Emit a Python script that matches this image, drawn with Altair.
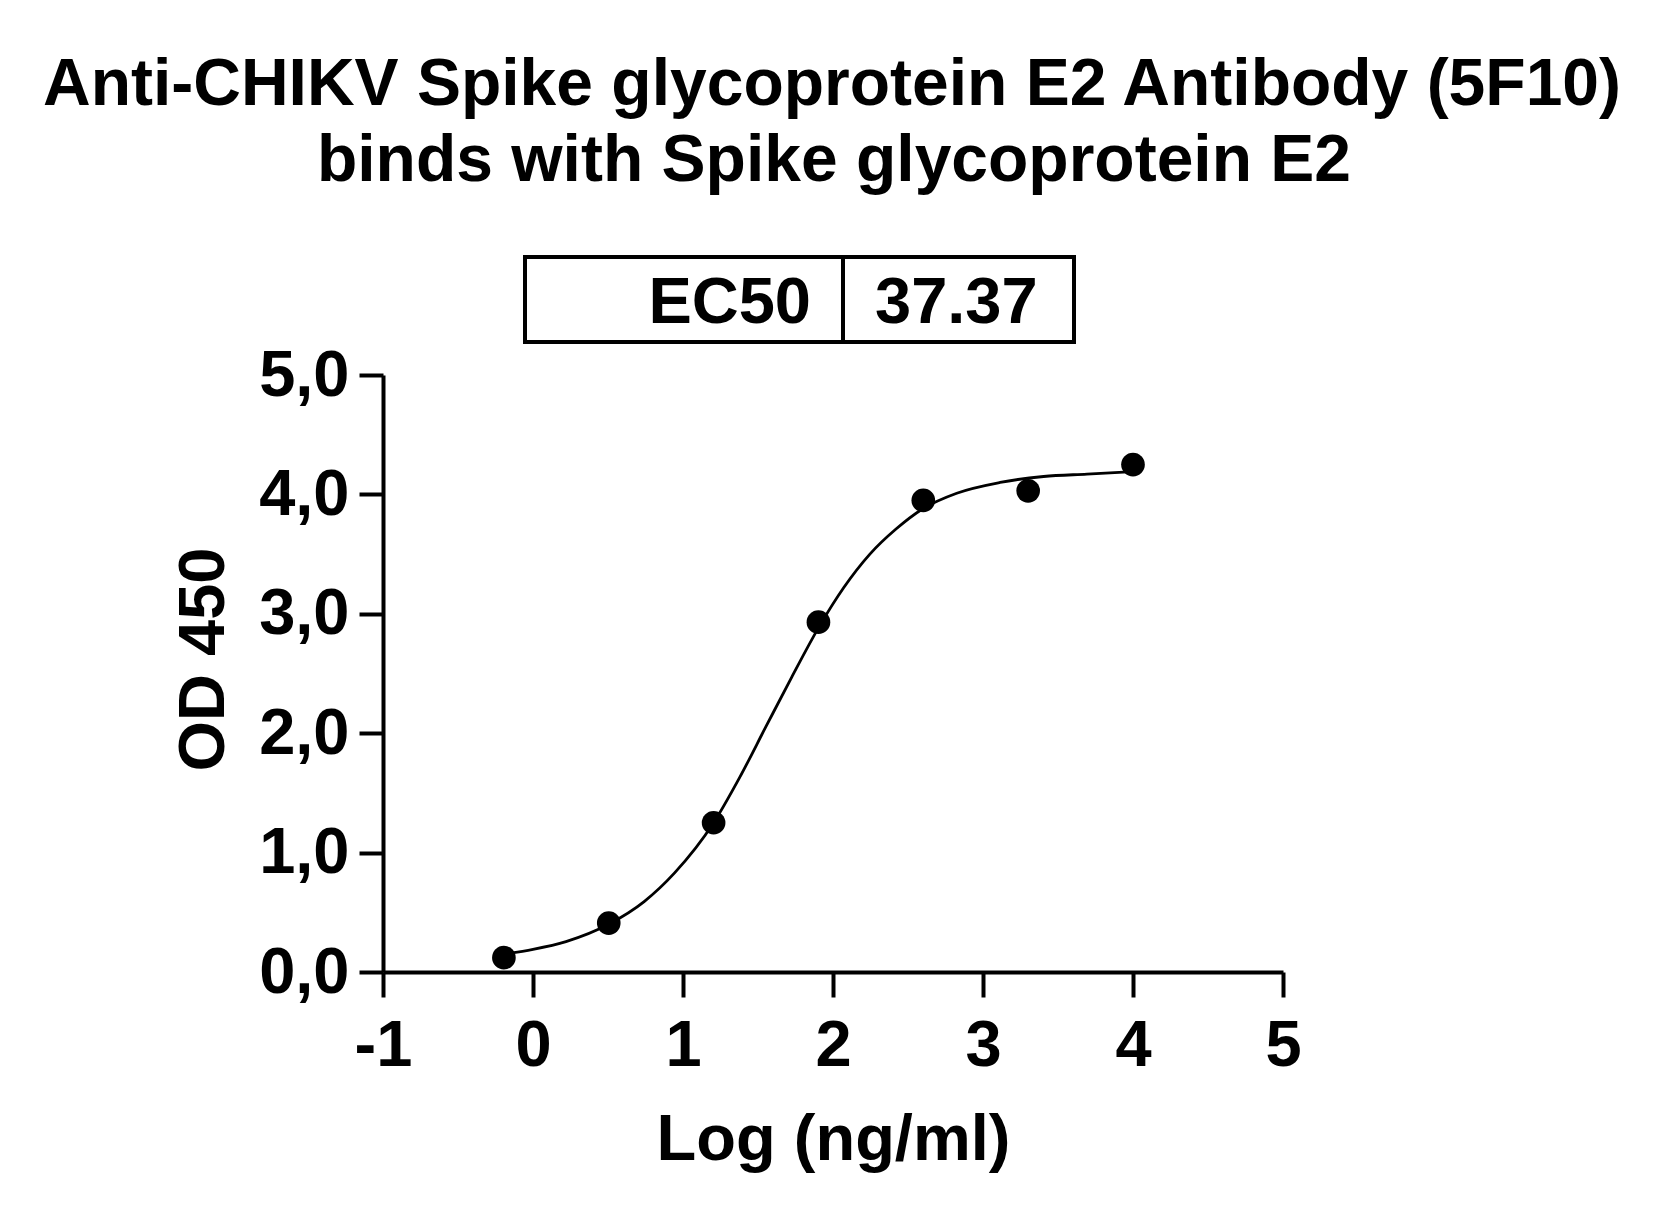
import altair as alt
import pandas as pd

# ---- data ----
title_lines = ["Anti-CHIKV Spike glycoprotein E2 Antibody (5F10)",
               "binds with Spike glycoprotein E2"]
ec50_label = "EC50"
ec50_value = "37.37"

log_conc = [-0.194, 0.505, 1.204, 1.903, 2.602, 3.301, 4.0]
od450 = [0.12, 0.41, 1.25, 2.93, 3.95, 4.03, 4.25]

curve_x = [-0.194, 0.0, 0.22, 0.504, 0.741, 0.944, 1.204, 1.378, 1.551, 1.725,
           1.902, 2.072, 2.246, 2.42, 2.599, 2.825, 3.114, 3.404, 3.693, 4.0]
curve_y = [0.15, 0.19, 0.255, 0.40, 0.59, 0.83, 1.25, 1.63, 2.05, 2.47,
           2.88, 3.22, 3.50, 3.71, 3.88, 4.01, 4.10, 4.15, 4.17, 4.19]

x_ticks = [-1, 0, 1, 2, 3, 4, 5]
y_ticks = [0, 1, 2, 3, 4, 5]

FONT = "Liberation Sans, Arial, sans-serif"
FS = 65

pts = pd.DataFrame({"x": log_conc, "y": od450})
crv = pd.DataFrame({"x": curve_x, "y": curve_y})
one = pd.DataFrame({"k": [0]})

xscale = alt.Scale(domain=[-1, 5], nice=False, zero=False)
yscale = alt.Scale(domain=[0, 5], nice=False, zero=False)

xaxis = alt.Axis(values=x_ticks, grid=False, title="Log (ng/ml)",
                 labelExpr="toString(datum.value)",
                 domainColor="black", domainWidth=4, tickColor="black",
                 tickWidth=4, tickSize=25, labelFont=FONT, labelFontSize=FS,
                 labelFontWeight="bold", labelColor="black", labelPadding=17,
                 labelFlush=False, labelOverlap=False,
                 titleFont=FONT, titleFontSize=FS, titleFontWeight="bold",
                 titleColor="black", titleY=187, titleBaseline="alphabetic")
yaxis = alt.Axis(values=y_ticks, grid=False, title="OD 450",
                 labelExpr="replace(format(datum.value, '.1f'), '.', ',')",
                 domainColor="black", domainWidth=4, tickColor="black",
                 tickWidth=4, tickSize=24, labelFont=FONT, labelFontSize=FS,
                 labelFontWeight="bold", labelColor="black", labelPadding=10,
                 labelFlush=False, labelOverlap=False,
                 titleFont=FONT, titleFontSize=FS, titleFontWeight="bold",
                 titleColor="black", titleX=-160, titleY=284,
                 titleBaseline="alphabetic", titleAngle=270)

curve = alt.Chart(crv).mark_line(color="black", strokeWidth=2.8,
                                 interpolate="monotone").encode(
    x=alt.X("x:Q", scale=xscale, axis=xaxis),
    y=alt.Y("y:Q", scale=yscale, axis=yaxis),
)

points = alt.Chart(pts).mark_point(filled=True, color="black", size=560,
                                   opacity=1).encode(
    x=alt.X("x:Q", scale=xscale),
    y=alt.Y("y:Q", scale=yscale),
)

# title (two lines)
t1 = alt.Chart(one).mark_text(font=FONT, fontSize=66, fontWeight="bold",
                              color="black", align="center",
                              baseline="alphabetic", text=title_lines[0]).encode(
    x=alt.value(449), y=alt.value(-270))
t2 = alt.Chart(one).mark_text(font=FONT, fontSize=66, fontWeight="bold",
                              color="black", align="center",
                              baseline="alphabetic", text=title_lines[1]).encode(
    x=alt.value(451), y=alt.value(-194))

# EC50 box
box = alt.Chart(one).mark_rect(fill="white", stroke="black",
                               strokeWidth=4).encode(
    x=alt.value(142), x2=alt.value(691), y=alt.value(-118), y2=alt.value(-33))
divider = alt.Chart(one).mark_rule(color="black", strokeWidth=4).encode(
    x=alt.value(460), y=alt.value(-118), y2=alt.value(-33))
ec_lab = alt.Chart(one).mark_text(font=FONT, fontSize=FS, fontWeight="bold",
                                  color="black", align="right",
                                  baseline="alphabetic", text=ec50_label).encode(
    x=alt.value(428), y=alt.value(-52))
ec_val = alt.Chart(one).mark_text(font=FONT, fontSize=FS, fontWeight="bold",
                                  color="black", align="left",
                                  baseline="alphabetic", text=ec50_value).encode(
    x=alt.value(492), y=alt.value(-52))

chart = alt.layer(curve, points, t1, t2, box, divider, ec_lab, ec_val).properties(
    width=900, height=597,
    autosize=alt.AutoSizeParams(type="none"),
    padding={"left": 375, "top": 367, "right": 378, "bottom": 239},
    background="white",
).configure_view(strokeWidth=0)

chart.save("out.html", embed_options={"renderer": "svg", "actions": False})
